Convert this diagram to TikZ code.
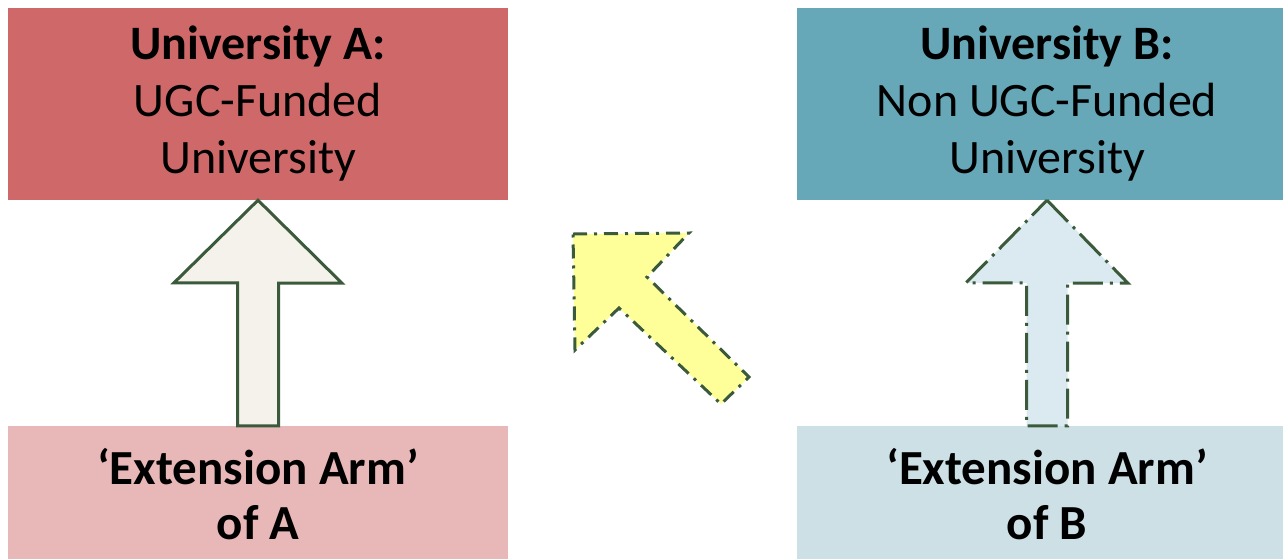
\documentclass[tikz,border=0pt]{standalone}
\usepackage{fontspec}
\setmainfont{Carlito}
\usetikzlibrary{calc}
\definecolor{redA}{HTML}{CF6868}
\definecolor{redAlight}{HTML}{E8B7B7}
\definecolor{blueB}{HTML}{66A7B8}
\definecolor{blueBlight}{HTML}{CCE0E6}
\definecolor{strokegreen}{HTML}{3B5A3B}
\definecolor{arrowcream}{HTML}{F4F2EA}
\definecolor{arrowblue}{HTML}{DAEAF0}
\definecolor{arrowyellow}{HTML}{FFFF99}
\tikzset{
  unibox/.style={rectangle, inner sep=0pt, minimum width=500pt, align=center,
    font=\fontsize{48}{57}\selectfont},
  armbox/.style={rectangle, inner sep=0pt, minimum width=500pt, align=center,
    font=\fontsize{49}{55}\selectfont\bfseries},
  solidarrow/.style={draw=strokegreen, line width=3pt, line join=miter, fill=arrowcream},
  dasharrow/.style={draw=strokegreen, line width=3pt, line join=miter,
    dash pattern=on 30pt off 7pt on 3pt off 7pt},
  diagarrow/.style={draw=strokegreen, line width=3pt, line join=miter, fill=arrowyellow,
    dash pattern=on 14pt off 7pt on 3pt off 7pt}
}
\begin{document}
\begin{tikzpicture}[x=1pt,y=-1pt]
\useasboundingbox (0,0) rectangle (1283,558);
\clip (0,0) rectangle (1283,558);
% boxes
\node[unibox, fill=redA, minimum height=192pt] (topA) at (258,104)
  {\textbf{University A:}\\UGC-Funded\\University};
\node[unibox, fill=blueB, minimum height=192pt] (topB) at (1047,104)
  {\textbf{University B:}\\Non UGC-Funded\\University};
\node[armbox, fill=redAlight, minimum height=136pt] (botA) at (258,494)
  {‘Extension Arm’\\of A};
\node[armbox, fill=blueBlight, minimum height=136pt] (botB) at (1047,494)
  {‘Extension Arm’\\of B};
% solid arrow A
\draw[solidarrow] (topA.south)
  -- ++(84,83) -- ++(-63.5,0) -- ($(botA.north)+(20.5,0)$) -- ($(botA.north)+(-20.5,0)$)
  -- ++(0,-143) -- ++(-63.5,0) -- cycle;
% dash-dot arrow B
\fill[arrowblue] (topB.south)
  -- ++(81,83) -- ++(-60.5,0) -- ($(botB.north)+(20.5,0)$) -- ($(botB.north)+(-20.5,0)$)
  -- ++(0,-143) -- ++(-60.5,0) -- cycle;
\draw[dasharrow] (topB.south)
  -- ++(81,83) -- ++(-60.5,0) -- ($(botB.north)+(20.5,0)$) -- ($(botB.north)+(-20.5,0)$)
  -- ++(0,-143) -- ++(-60.5,0) -- cycle;
% diagonal arrow
\draw[diagarrow] (573,234) -- (689,233) -- (647,277) -- (749,377) -- (721,404)
  -- (619,308) -- (575,350) -- cycle;
\end{tikzpicture}
\end{document}
